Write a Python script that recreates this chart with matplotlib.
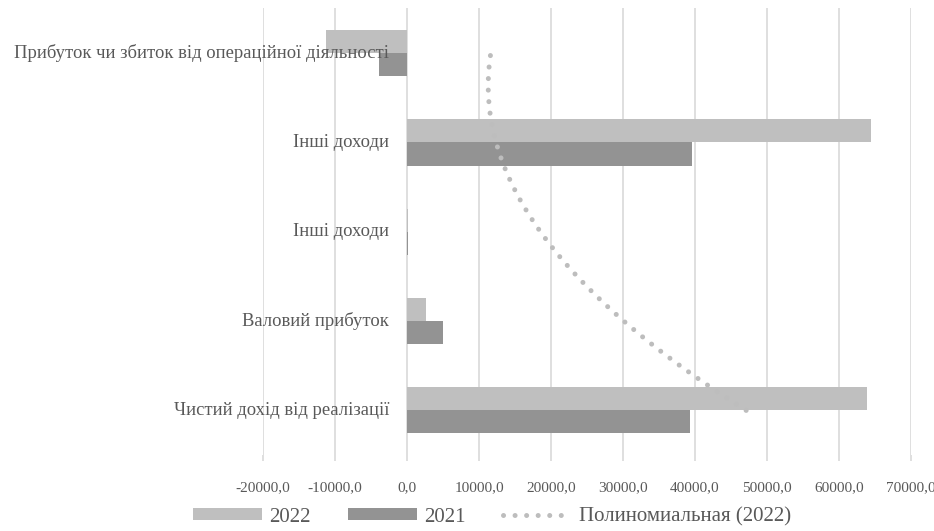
import numpy as np
import matplotlib.pyplot as plt
from matplotlib.patches import Patch
from matplotlib.lines import Line2D
from matplotlib.transforms import offset_copy

categories = [
    "Чистий дохід від реалізації",
    "Валовий прибуток",
    "Інші доходи",
    "Інші доходи",
    "Прибуток чи збиток від операційної діяльності",
]
values_2022 = [63900, 2650, 120, 64380, -11300]
values_2021 = [39330, 4980, 90, 39520, -3950]
x_ticks = [-20000, -10000, 0, 10000, 20000, 30000, 40000, 50000, 60000, 70000]

plt.rcParams['font.family'] = ['Liberation Serif', 'DejaVu Serif']
text_col = '#595959'
c2022 = '#BFBFBF'
c2021 = '#939393'
c_trend = '#BDBDBD'

fig = plt.figure(figsize=(9.34, 5.31), dpi=100)
ax = fig.add_axes([0.2816, 0.143, 0.6938, 0.841])

pos = np.arange(1, len(categories) + 1)
h = 0.258
ax.barh(pos + h / 2, values_2022, height=h, color=c2022, zorder=2)
ax.barh(pos - h / 2, values_2021, height=h, color=c2021, zorder=2)

# polynomial trendline (order 2), like excel
coef = np.polyfit(pos, values_2022, 2)
yy = np.linspace(pos[0], pos[-1], 300)
ax.plot(np.polyval(coef, yy), yy, color=c_trend, lw=3.6,
        linestyle=(0, (0.01, 2.3)), dash_capstyle='round', zorder=3)

ax.set_xlim(-20000, 70000)
ax.set_ylim(0.5, 5.5)
ax.set_xticks(x_ticks)
ax.set_xticklabels([f"{v:.1f}".replace('.', ',') for v in x_ticks])
ax.set_yticks([])
ax.grid(axis='x', color='#D9D9D9', lw=1.2, zorder=0)
for s in ax.spines.values():
    s.set_visible(False)
ax.tick_params(axis='x', length=4, width=1.2, color='#D9D9D9',
               pad=15, labelsize=11, labelcolor=text_col)

# category labels sit next to the zero line
trans = offset_copy(ax.transData, fig=fig, x=-18, y=0, units='dots')
for p, lab in zip(pos, categories):
    ax.text(0, p, lab, transform=trans, ha='right', va='center',
            fontsize=13.4, color=text_col, zorder=4)

handles = [
    Patch(facecolor=c2022, edgecolor='none', label='2022'),
    Patch(facecolor=c2021, edgecolor='none', label='2021'),
    Line2D([], [], color=c_trend, lw=3.6, linestyle=(0, (0.01, 2.3)),
           dash_capstyle='round', label='Полиномиальная (2022)'),
]
leg = fig.legend(handles=handles, loc='lower center', ncol=3,
                 bbox_to_anchor=(0.527, -0.027), frameon=False,
                 fontsize=15, handlelength=3.3, handleheight=0.5,
                 handletextpad=0.35, columnspacing=1.8)
for t in leg.get_texts():
    t.set_color(text_col)

fig.savefig('out.png', dpi=100)
